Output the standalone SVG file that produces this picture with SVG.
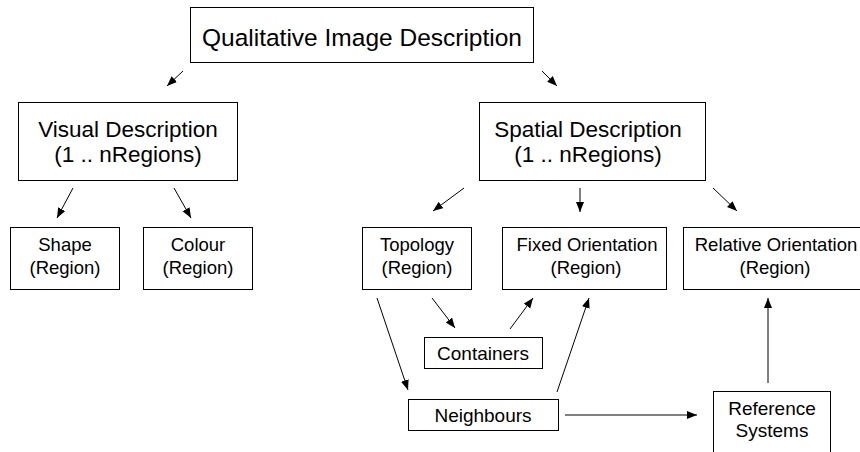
<svg xmlns="http://www.w3.org/2000/svg" width="860" height="452" viewBox="0 0 860 452">
<defs>
<marker id="ah" markerUnits="userSpaceOnUse" markerWidth="12" markerHeight="10" refX="10" refY="4" orient="auto">
<path d="M0,0 L10,4 L0,8 Z" fill="#000"/>
</marker>
<style>
.box{fill:#fff;stroke:#000;stroke-width:1}
.t{font-family:"Liberation Sans",Arial,sans-serif;fill:#000;text-anchor:middle}
.big{font-size:24.5px}
.mid{font-size:22.5px}
.sm{font-size:18.5px}
.sm2{font-size:19px}
.c line{stroke:#000;stroke-width:1;marker-end:url(#ah)}
</style>
</defs>
<rect width="860" height="452" fill="#fff"/>
<g id="qid"><rect class="box" x="190.5" y="7.5" width="343" height="55"/><text class="t big" x="362" y="46">Qualitative Image Description</text></g>
<g id="visual"><rect class="box" x="18.5" y="102.5" width="219" height="78"/><text class="t mid" x="128" y="137">Visual Description</text><text class="t mid" x="128" y="162">(1 .. nRegions)</text></g>
<g id="spatial"><rect class="box" x="479.5" y="102.5" width="226" height="78"/><text class="t mid" x="588" y="137">Spatial Description</text><text class="t mid" x="588" y="162">(1 .. nRegions)</text></g>
<g id="shape"><rect class="box" x="10.5" y="227.5" width="109" height="62"/><text class="t sm" x="65" y="251">Shape</text><text class="t sm" x="65" y="274">(Region)</text></g>
<g id="colour"><rect class="box" x="143.5" y="227.5" width="109" height="62"/><text class="t sm" x="198" y="251">Colour</text><text class="t sm" x="198" y="274">(Region)</text></g>
<g id="topology"><rect class="box" x="362.5" y="227.5" width="109" height="62"/><text class="t sm" x="417" y="251">Topology</text><text class="t sm" x="417" y="274">(Region)</text></g>
<g id="fixed"><rect class="box" x="502.5" y="227.5" width="164" height="62"/><text class="t sm" x="587" y="251">Fixed Orientation</text><text class="t sm" x="586" y="274">(Region)</text></g>
<g id="relative"><rect class="box" x="683.5" y="227.5" width="184" height="62"/><text class="t sm" x="776" y="251">Relative Orientation</text><text class="t sm" x="775" y="274">(Region)</text></g>
<g id="containers"><rect class="box" x="424.5" y="337.5" width="118" height="31"/><text class="t sm2" x="483" y="360">Containers</text></g>
<g id="neighbours"><rect class="box" x="408.5" y="399.5" width="150" height="31"/><text class="t sm2" x="483" y="422">Neighbours</text></g>
<g id="reference"><rect class="box" x="713.5" y="391.5" width="117" height="70"/><text class="t sm2" x="772" y="415">Reference</text><text class="t sm2" x="772" y="437">Systems</text></g>
<g id="connectors" class="c">
<line x1="183" y1="71" x2="167" y2="86"/>
<line x1="542" y1="71" x2="557" y2="86"/>
<line x1="73" y1="188" x2="57" y2="218"/>
<line x1="174" y1="188" x2="191" y2="218"/>
<line x1="464" y1="188" x2="433" y2="211"/>
<line x1="580" y1="188" x2="580" y2="212"/>
<line x1="713" y1="188" x2="737" y2="211"/>
<line x1="377" y1="298" x2="408" y2="390"/>
<line x1="432" y1="298" x2="455" y2="328"/>
<line x1="510" y1="329" x2="533" y2="298"/>
<line x1="557" y1="392" x2="589" y2="298"/>
<line x1="565" y1="415" x2="697" y2="415"/>
<line x1="768" y1="383" x2="768" y2="298"/>
</g>
</svg>
